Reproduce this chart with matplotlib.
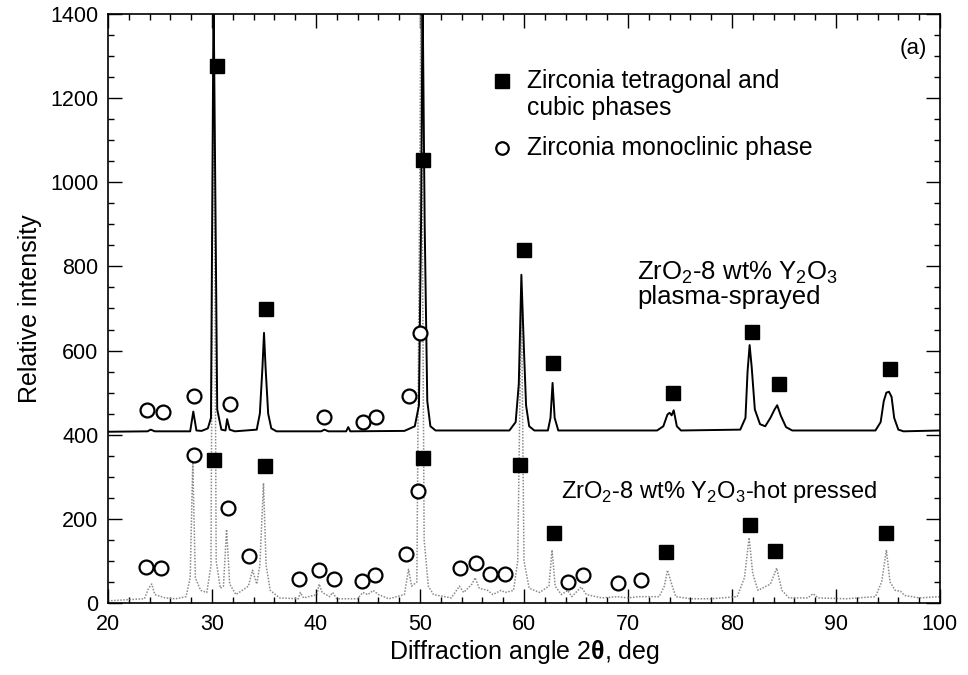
import matplotlib
matplotlib.use("Agg")
import matplotlib.pyplot as plt
from matplotlib.ticker import MultipleLocator

plt.rcParams['font.family'] = ['Liberation Sans', 'DejaVu Sans']
plt.rcParams['mathtext.fontset'] = 'custom'
plt.rcParams['mathtext.rm'] = 'Liberation Sans'
plt.rcParams['mathtext.bf'] = 'Liberation Sans:bold'

plasma_x = [20.0, 23.8, 24.1, 24.5, 27.9, 28.2, 28.5, 29.0, 29.6, 29.9, 30.15, 30.5, 30.9,
            31.3, 31.45, 31.7, 32.2, 34.3, 34.6, 34.85, 35.0, 35.15, 35.4, 35.7, 36.2,
            40.5, 40.8, 41.2, 42.9, 43.1, 43.3, 48.5, 49.5, 49.9, 50.1, 50.25, 50.45, 50.7,
            51.0, 51.5, 58.6, 59.2, 59.5, 59.75, 60.0, 60.2, 60.5, 61.0, 62.3, 62.55, 62.75,
            62.95, 63.3, 72.8, 73.4, 73.8, 74.0, 74.2, 74.4, 74.7, 75.1, 80.8, 81.3, 81.5,
            81.7, 81.9, 82.2, 82.7, 83.2, 83.7, 84.1, 84.35, 84.7, 85.2, 85.8, 93.8, 94.3,
            94.6, 94.85, 95.1, 95.35, 95.6, 96.0, 96.5, 100.0]
plasma_y = [407, 408, 412, 408, 408, 455, 410, 409, 415, 440, 1450, 460, 412,
            410, 437, 412, 408, 412, 450, 560, 642, 560, 450, 415, 408,
            408, 412, 408, 408, 418, 408, 409, 420, 470, 900, 1450, 900, 480,
            420, 410, 410, 430, 520, 780, 600, 470, 420, 410, 410, 440, 523,
            440, 410, 410, 420, 448, 452, 446, 458, 420, 410, 412, 440, 550,
            613, 560, 460, 425, 420, 440, 460, 470, 445, 418, 410, 410, 430,
            480, 500, 502, 490, 440, 412, 408, 410]

hot_x = [20.0, 22.0, 23.5, 23.9, 24.2, 24.5, 25.5, 26.5, 27.5, 27.9, 28.15, 28.4, 28.9,
         29.5, 29.9, 30.15, 30.4, 30.8, 31.1, 31.4, 31.7, 32.3, 33.5, 33.9, 34.3, 34.6,
         34.95, 35.2, 35.6, 36.5, 38.3, 38.5, 38.8, 40.1, 40.3, 40.6, 41.3, 41.6, 42.0,
         44.0, 44.5, 45.0, 45.5, 46.0, 47.0, 48.5, 48.9, 49.2, 49.7, 50.1, 50.4, 50.8,
         51.3, 53.0, 53.8, 54.2, 55.0, 55.3, 55.7, 56.5, 57.0, 57.8, 58.2, 59.0, 59.4,
         59.75, 60.0, 60.5, 61.5, 62.4, 62.7, 63.0, 63.6, 64.2, 64.6, 65.5, 66.0, 67.5,
         69.0, 70.0, 71.0, 73.0, 73.5, 73.8, 74.2, 74.6, 76.0, 78.0, 80.5, 81.2, 81.65,
         82.0, 82.5, 83.7, 84.3, 84.8, 85.5, 87.3, 87.8, 88.3, 91.0, 93.8, 94.4, 94.85,
         95.2, 95.7, 96.2, 96.6, 98.0, 100.0]
hot_y = [5, 8, 10, 35, 45, 20, 12, 10, 15, 60, 335, 60, 30,
         25, 90, 1450, 100, 35, 40, 175, 45, 20, 40, 78, 45, 90,
         285, 90, 30, 12, 10, 25, 12, 20, 45, 25, 15, 25, 10,
         10, 25, 20, 30, 20, 10, 20, 80, 40, 50, 1450, 150, 40,
         20, 12, 40, 25, 45, 60, 35, 30, 20, 30, 25, 30, 100,
         750, 100, 35, 25, 40, 126, 40, 20, 30, 15, 38, 20, 12,
         15, 12, 15, 15, 40, 78, 45, 15, 10, 10, 15, 60, 155,
         70, 30, 45, 83, 30, 12, 12, 22, 12, 10, 15, 50, 126,
         50, 30, 28, 18, 12, 15]

# phase markers
tet_x = [30.5, 35.2, 50.3, 60.0, 62.8, 74.3, 81.9, 84.5, 95.2,
         30.2, 35.1, 50.3, 59.6, 62.9, 73.7, 81.7, 84.1, 94.8]
tet_y = [1276, 698, 1054, 840, 571, 499, 645, 521, 555,
         340, 326, 344, 328, 167, 122, 185, 124, 167]
mono_x = [23.7, 25.3, 28.3, 31.7, 40.8, 44.55, 45.8, 48.9, 50.0,
          23.65, 25.1, 28.3, 31.5, 33.6, 38.4, 40.3, 41.7, 44.4, 45.7,
          48.7, 49.8, 53.8, 55.35, 56.7, 58.2, 64.2, 65.7, 69.0, 71.25]
mono_y = [459, 455, 492, 472, 441, 429, 441, 492, 641,
          85, 82, 352, 225, 112, 56, 78, 56, 52, 67,
          116, 267, 82, 94, 68, 70, 51, 67, 47, 55]

fig = plt.figure(figsize=(9.68, 6.75), dpi=100)
ax = fig.add_axes([0.1116, 0.1067, 0.8594, 0.8726])

ax.plot(hot_x, hot_y, color='#8a8a8a', lw=1.1, ls=(0, (1, 1)), zorder=2)
ax.plot(plasma_x, plasma_y, color='black', lw=1.4, zorder=3)
ax.plot(tet_x, tet_y, 's', color='black', ms=10, zorder=4)
ax.plot(mono_x, mono_y, 'o', mfc='white', mec='black', mew=1.6, ms=10, zorder=4)

ax.set_xlim(20, 100)
ax.set_ylim(0, 1400)
ax.xaxis.set_major_locator(MultipleLocator(10))
ax.xaxis.set_minor_locator(MultipleLocator(2))
ax.yaxis.set_major_locator(MultipleLocator(200))
ax.yaxis.set_minor_locator(MultipleLocator(50))
ax.tick_params(which='both', direction='in', top=True, right=True, labelsize=15.5, width=1)
ax.tick_params(which='major', length=10)
ax.tick_params(which='minor', length=4)
ax.tick_params(axis='x', pad=8)
ax.tick_params(axis='y', pad=7)
for s in ax.spines.values():
    s.set_linewidth(1.2)

ax.set_xlabel(r'Diffraction angle 2$\mathbf{\theta}$, deg', fontsize=18, labelpad=2)
ax.set_ylabel('Relative intensity', fontsize=18, labelpad=6)

# legend drawn by hand
ax.plot([57.9], [1240], 's', color='black', ms=10)
ax.text(60.3, 1240, 'Zirconia tetragonal and', fontsize=17.8, va='center')
ax.text(60.3, 1177, 'cubic phases', fontsize=17.8, va='center')
ax.plot([57.9], [1081], 'o', mfc='white', mec='black', mew=1.6, ms=9)
ax.text(60.3, 1081, 'Zirconia monoclinic phase', fontsize=17.8, va='center')

ax.text(98.8, 1319, '(a)', fontsize=16, ha='right', va='center')
ax.text(70.9, 784, r'ZrO$_2$-8 wt% Y$_2$O$_3$', fontsize=18.5, va='center')
ax.text(70.9, 727, 'plasma-sprayed', fontsize=18.5, va='center')
ax.text(63.6, 264, r'ZrO$_2$-8 wt% Y$_2$O$_3$-hot pressed', fontsize=17, va='center')

fig.savefig('out.png', dpi=100)
